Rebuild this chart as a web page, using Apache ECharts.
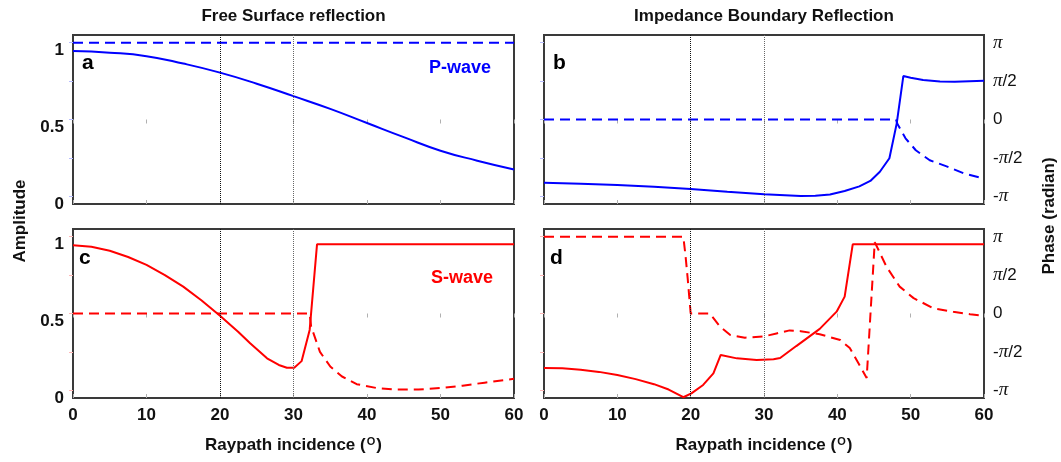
<!DOCTYPE html>
<html>
<head>
<meta charset="utf-8">
<script src="https://cdn.jsdelivr.net/npm/echarts@6/dist/echarts.min.js"></script>
<style>
  html, body { margin: 0; padding: 0; background: #fff; }
  #chart { width: 1061px; height: 462px; }
</style>
</head>
<body>
<div id="chart"></div>
<script>
// Reflection coefficients versus raypath incidence angle (degrees).
// Amplitudes are plain ratios; phases are stored in units of pi (radian / pi).

const angleTicks = [0, 10, 20, 30, 40, 50, 60];
const ampTicks = [0, 0.5, 1];
const phaseTicks = [-1, -0.5, 0, 0.5, 1];
const phaseTickLabels = ['-{pi|π}', '-{pi|π}/2', '0', '{pi|π}/2', '{pi|π}'];
const guideAngles = [20, 30];

const panelTitles = ['Free Surface reflection', 'Impedance Boundary Reflection'];
const panelLetters = ['a', 'b', 'c', 'd'];
const waveNames = ['P-wave', 'S-wave'];

// P-wave, free surface
const pFreeAmp = [[0, 0.996], [5, 0.985], [10, 0.962], [15, 0.914], [20, 0.855], [25, 0.783],
  [30, 0.702], [35, 0.619], [40, 0.527], [45, 0.435], [50, 0.347], [55, 0.282], [60, 0.225]];
const pFreePhase = [[0, 1], [60, 1]];

// P-wave, impedance boundary
const pImpAmp = [[0, 0.138], [5, 0.132], [10, 0.124], [15, 0.112], [20, 0.098], [25, 0.08],
  [30, 0.063], [35, 0.052], [37, 0.053], [39, 0.062], [41, 0.085], [43, 0.115], [44.5, 0.15],
  [45.8, 0.21], [47.1, 0.298], [48.1, 0.525], [49.0, 0.833], [50, 0.822], [51.7, 0.807],
  [54, 0.797], [56, 0.795], [58, 0.799], [60, 0.803]];
const pImpPhase = [[0, 0], [48, 0], [48.2, -0.06], [49.3, -0.245], [50.7, -0.40], [52.6, -0.53],
  [54.9, -0.61], [57.2, -0.70], [60, -0.77]];

// S-wave, free surface
const sFreeAmp = [[0, 0.995], [2.5, 0.985], [5, 0.958], [7.5, 0.918], [10, 0.866], [12.5, 0.8],
  [15, 0.725], [17.5, 0.635], [20, 0.535], [22.5, 0.43], [24.1, 0.356], [26.4, 0.258],
  [28, 0.215], [29.1, 0.197], [30.1, 0.197], [31.1, 0.24], [32.2, 0.443], [33.2, 1.0], [60, 1.0]];
const sFreePhase = [[0, 0], [32.2, 0], [32.4, -0.17], [33.6, -0.5], [35, -0.69], [36.6, -0.82],
  [38.6, -0.92], [41.3, -0.97], [44, -0.99], [47, -0.99], [50, -0.97], [53, -0.94],
  [56, -0.9], [60, -0.85]];

// S-wave, impedance boundary
const sImpAmp = [[0, 0.196], [2.5, 0.193], [5, 0.184], [7.5, 0.17], [10, 0.15], [12.5, 0.123],
  [15, 0.09], [17, 0.055], [19, 0.005], [20.1, 0.03], [21.7, 0.085], [23.1, 0.16], [24.1, 0.28],
  [26.3, 0.258], [29, 0.247], [31.3, 0.252], [32.2, 0.26], [34.4, 0.338], [37.6, 0.45],
  [39.9, 0.562], [41, 0.66], [42.1, 1.0], [60, 1.0]];
const sImpPhase = [[0, 1], [19, 1], [19.3, 0.75], [19.6, 0.45], [20, 0], [22.6, 0], [24, -0.17],
  [25.4, -0.28], [27.4, -0.315], [29.9, -0.3], [31.7, -0.26], [33.5, -0.22], [35, -0.23],
  [37.6, -0.27], [40.4, -0.345], [41.7, -0.45], [42.9, -0.65], [44, -0.84], [45.1, 0.93],
  [46.7, 0.61], [48.5, 0.35], [50.4, 0.2], [53.1, 0.068], [55.8, 0.023], [58.1, -0.01], [60, -0.03]];

const BLUE = '#0000ff';
const RED = '#ff0000';
const FONT = 'Liberation Sans, Arial, sans-serif';

// Panel boxes: [left, top, width, height]
const boxes = [[73, 35, 441, 169], [544, 35, 440, 169], [73, 229, 441, 169], [544, 229, 440, 169]];
const panels = [
  { amp: pFreeAmp, phase: pFreePhase, color: BLUE, tick: '#b8bdff' },
  { amp: pImpAmp, phase: pImpPhase, color: BLUE, tick: '#b8bdff' },
  { amp: sFreeAmp, phase: sFreePhase, color: RED, tick: '#ffb8b8' },
  { amp: sImpAmp, phase: sImpPhase, color: RED, tick: '#ffb8b8' }
];

const grid = [], xAxis = [], yAxis = [], series = [];

boxes.forEach((b, i) => {
  const isLeft = i % 2 === 0;
  const isBottom = i >= 2;
  grid.push({ left: b[0], top: b[1], width: b[2], height: b[3], show: true,
    borderColor: '#3a3a3a', borderWidth: 2, backgroundColor: 'transparent' });

  // bottom axis (carries the data) and top axis (ticks only)
  ['bottom', 'top'].forEach(pos => {
    xAxis.push({
      type: 'value', gridIndex: i, position: pos, min: 0, max: 60, interval: 10,
      axisLine: { show: false }, splitLine: { show: false },
      axisTick: { show: true, inside: true, length: 4, lineStyle: { color: '#b0b0b0' } },
      axisLabel: { show: isBottom && pos === 'bottom', margin: 9, fontSize: 17, fontWeight: 'bold',
        color: '#111', fontFamily: FONT, customValues: angleTicks },
      name: isBottom && pos === 'bottom' ? 'Raypath incidence ({sup|O})' : '',
      nameLocation: 'middle', nameGap: 38,
      nameTextStyle: { fontSize: 17, fontWeight: 'bold', color: '#111', fontFamily: FONT,
        rich: { sup: { fontSize: 11, fontWeight: 'bold', color: '#111', fontFamily: FONT,
          verticalAlign: 'top', padding: [0, 1, 7, 1] } } }
    });
  });

  // amplitude axis (left) and phase axis (right)
  yAxis.push({
    type: 'value', gridIndex: i, position: 'left', min: 0, max: 1.1,
    axisLine: { show: false }, splitLine: { show: false },
    axisTick: { show: false },
    axisLabel: { show: isLeft, customValues: ampTicks, margin: 9, fontSize: 17, fontWeight: 'bold',
      color: '#111', fontFamily: FONT }
  });
  yAxis.push({
    type: 'value', gridIndex: i, position: 'right', min: -1.1, max: 1.1,
    axisLine: { show: false }, splitLine: { show: false },
    axisTick: { show: true, inside: true, length: 4, customValues: phaseTicks,
      lineStyle: { color: panels[i].tick } },
    axisLabel: { show: !isLeft, customValues: phaseTicks, margin: 9, fontSize: 17,
      color: '#111', fontFamily: FONT,
      formatter: v => {
        const k = phaseTicks.findIndex(t => Math.abs(t - v) < 1e-6);
        return k >= 0 ? phaseTickLabels[k] : '';
      },
      rich: { pi: { fontFamily: 'Liberation Serif, serif', fontStyle: 'italic', fontSize: 19, color: '#111' } } }
  });

  const p = panels[i];
  // phase: dashed, on the right-hand axis
  series.push({
    type: 'line', xAxisIndex: 2 * i, yAxisIndex: 2 * i + 1, data: p.phase,
    showSymbol: false, silent: true, z: 3,
    lineStyle: { color: p.color, width: 2, type: [10, 6] }
  });
  // amplitude: solid, on the left-hand axis, with the 20° and 30° guides
  series.push({
    type: 'line', xAxisIndex: 2 * i, yAxisIndex: 2 * i, data: p.amp,
    showSymbol: false, silent: true, z: 4, smooth: i === 0,
    lineStyle: { color: p.color, width: 2 },
    markLine: {
      silent: true, symbol: 'none', label: { show: false }, animation: false,
      data: guideAngles.map((a, k) => ({ xAxis: a,
        lineStyle: { type: 'dotted', width: 1, color: k === 0 ? '#111' : '#666' } }))
    }
  });
});

const textStyle = (txt, size, color, extra) => Object.assign({
  text: txt, fontSize: size, fontWeight: 'bold', fill: color, fontFamily: FONT
}, extra || {});

const graphic = [
  { type: 'text', x: 293.5, y: 16, style: textStyle(panelTitles[0], 17, '#111', { textAlign: 'center', textVerticalAlign: 'middle' }) },
  { type: 'text', x: 764, y: 16, style: textStyle(panelTitles[1], 17, '#111', { textAlign: 'center', textVerticalAlign: 'middle' }) },
  { type: 'text', x: 82, y: 74, style: textStyle(panelLetters[0], 21, '#000', { textVerticalAlign: 'bottom' }) },
  { type: 'text', x: 553, y: 74, style: textStyle(panelLetters[1], 21, '#000', { textVerticalAlign: 'bottom' }) },
  { type: 'text', x: 79, y: 269, style: textStyle(panelLetters[2], 21, '#000', { textVerticalAlign: 'bottom' }) },
  { type: 'text', x: 550, y: 269, style: textStyle(panelLetters[3], 21, '#000', { textVerticalAlign: 'bottom' }) },
  { type: 'text', x: 460, y: 68, style: textStyle(waveNames[0], 18, BLUE, { textAlign: 'center', textVerticalAlign: 'middle' }) },
  { type: 'text', x: 462, y: 278, style: textStyle(waveNames[1], 18, RED, { textAlign: 'center', textVerticalAlign: 'middle' }) },
  { type: 'text', x: 20, y: 221, rotation: Math.PI / 2, style: textStyle('Amplitude', 17, '#111', { textAlign: 'center', textVerticalAlign: 'middle' }) },
  { type: 'text', x: 1049, y: 216, rotation: Math.PI / 2, style: textStyle('Phase (radian)', 17, '#111', { textAlign: 'center', textVerticalAlign: 'middle' }) }
];

const chart = echarts.init(document.getElementById('chart'), null, { renderer: 'canvas' });
chart.setOption({
  animation: false,
  backgroundColor: '#ffffff',
  grid, xAxis, yAxis, series, graphic
});
</script>
</body>
</html>
